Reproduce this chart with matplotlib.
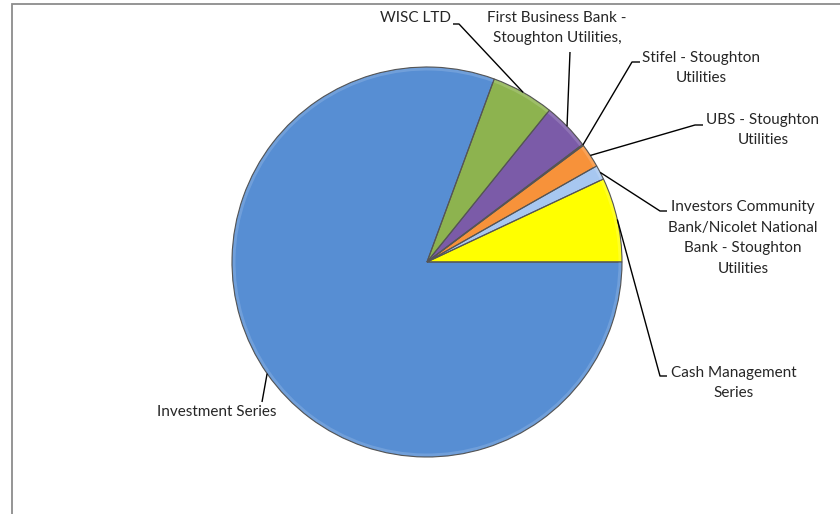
import numpy as np
import matplotlib
matplotlib.use("Agg")
import matplotlib.pyplot as plt
from matplotlib.patches import Rectangle, Wedge
from matplotlib.colors import to_rgb

# Data (counter-clockwise from 3 o'clock)
categories = ["Cash Management\nSeries",
              "Investors Community\nBank/Nicolet National\nBank - Stoughton\nUtilities",
              "UBS - Stoughton\nUtilities",
              "Stifel - Stoughton\nUtilities",
              "First Business Bank -\nStoughton Utilities,",
              "WISC LTD",
              "Investment Series"]
values = [7.0, 1.2, 2.0, 0.1, 3.9, 5.2, 80.6]
colors = ["#FFFF00", "#A7C7F0", "#F7923A", "#9A9A9A", "#7B5BA8", "#8DB34F", "#578ED3"]

W, H = 840, 514
fig = plt.figure(figsize=(W / 100, H / 100), dpi=100)
ax = fig.add_axes([0, 0, 1, 1])

def P(x, y):
    return x, H - y

# chart border (top & left visible)
fig.patches.append(Rectangle((12 / W, -0.1), 1.2, (H - 4) / H + 0.1,
                             transform=fig.transFigure, fill=False,
                             edgecolor="#8c8c8c", linewidth=1.3))

cx, cy = P(427, 262)
R = 195
wedges, _ = ax.pie(values, colors=colors, startangle=0, counterclock=True,
                   center=(cx, cy), radius=R, frame=True,
                   wedgeprops=dict(edgecolor="none", linewidth=0))

# subtle bevel: lighter band along the rim, then dark outline
for w, c in zip(wedges, colors):
    rgb = np.array(to_rgb(c))
    light = rgb + (1 - rgb) * 0.15
    ax.add_patch(Wedge((cx, cy), R - 0.5, w.theta1, w.theta2, width=3,
                       facecolor=light, edgecolor="none"))
    ax.add_patch(Wedge((cx, cy), R, w.theta1, w.theta2, fill=False,
                       edgecolor="#555555", linewidth=0.8))

ax.set_xlim(0, W)
ax.set_ylim(0, H)
ax.axis("off")

# label layout: text center, elbow point, end point (pixel coords)
layout = [
    dict(text=(734, 383), elbow=(660, 376), end=(667, 376)),
    dict(text=(743, 238), elbow=(660, 211), end=(667, 211)),
    dict(text=(763, 130), elbow=(695, 125), end=(703, 125)),
    dict(text=(701, 68), elbow=(632, 62), end=(640, 62)),
    dict(text=(557, 28), elbow=(570, 52), end=(570, 52)),
    dict(text=(415, 18), elbow=(459, 24), end=(453, 24)),
    dict(text=(217, 412), elbow=(262, 402), end=(262, 402)),
]

for w, lab, lay in zip(wedges, categories, layout):
    mid = np.deg2rad((w.theta1 + w.theta2) / 2)
    rx = cx + R * np.cos(mid)
    ry = cy + R * np.sin(mid)
    ex, ey = P(*lay["elbow"])
    fx, fy = P(*lay["end"])
    ax.plot([rx, ex, fx], [ry, ey, fy], color="black", linewidth=1.0,
            solid_capstyle="butt")
    tx, ty = P(*lay["text"])
    ax.text(tx, ty, lab, ha="center", va="center", fontsize=11.0,
            family="Lato", color="#262626", linespacing=1.58)

fig.savefig("out.png", dpi=100)
